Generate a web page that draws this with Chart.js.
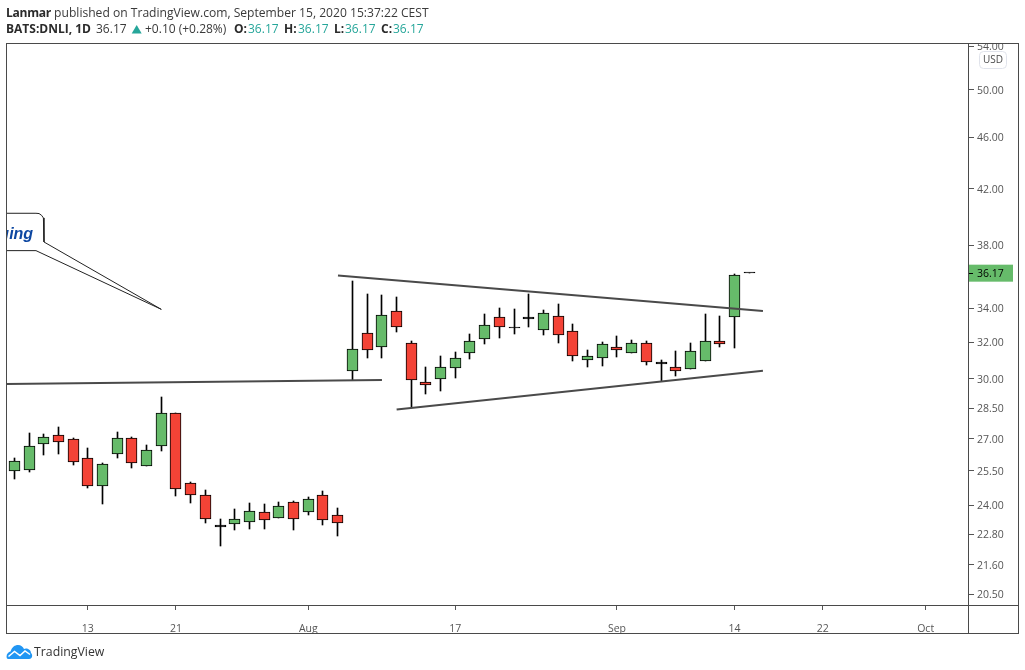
<!DOCTYPE html>
<html><head><meta charset="utf-8">
<script src="https://cdn.jsdelivr.net/npm/chart.js@4"></script>
<style>
html,body{margin:0;padding:0;background:#fff;width:1025px;height:670px;overflow:hidden}
canvas{position:absolute;left:0;top:0}
.t{position:absolute;font:12px "Open Sans",sans-serif;color:#3a3a3a;white-space:nowrap;line-height:16px;z-index:2}
.b{font-weight:700;color:#2b2b2b}
.g{color:#26a69a}
</style></head><body>
<canvas id="c" width="1025" height="670"></canvas>
<div class="t" style="left:6px;top:5px;font-size:12.1px"><span class="b" style="letter-spacing:-0.3px">Lanmar</span> published on TradingView.com, September 15, 2020 15:37:22 CEST</div>
<div class="t b" style="left:6px;top:21px">BATS:DNLI, 1D</div>
<div class="t" style="left:96px;top:21px">36.17</div>
<svg style="position:absolute;left:131px;top:24px;z-index:2" width="12" height="10"><path d="M0.7 9.6 L5.7 1 L10.7 9.6Z" fill="#26a69a"/></svg>
<div class="t" style="left:145px;top:21px">+0.10 (+0.28%)</div>
<div class="t b" style="left:234px;top:21px">O:</div><div class="t g" style="left:248px;top:21px">36.17</div>
<div class="t b" style="left:284px;top:21px">H:</div><div class="t g" style="left:298px;top:21px">36.17</div>
<div class="t b" style="left:334px;top:21px">L:</div><div class="t g" style="left:345px;top:21px">36.17</div>
<div class="t b" style="left:381px;top:21px">C:</div><div class="t g" style="left:393px;top:21px">36.17</div>
<svg style="position:absolute;left:6px;top:644px;z-index:2" width="27" height="16" viewBox="0 0 27 16"><path d="M1 14.5 C-0.5 11 2 8 4.5 7.5 C6 3 9 1 12 1 C15 1 17 3 18 5 C20 3.5 25 5 25 9 C27 10.5 26.5 15 23 15 L2 15Z" fill="#2196f3"/><path d="M2.5 12.5 L8.5 7.5 L14 11.5 L19 7 L24 10.5" fill="none" stroke="#fff" stroke-width="1.5"/></svg>
<div class="t" style="left:34px;top:644px;font-size:12.3px;color:#333">TradingView</div>
<script>
const opens  = [25.48,25.53,26.73,27.16,26.97,26.08,24.82,26.26,27.01,25.71,26.63,28.23,24.95,24.42,23.18,23.20,23.29,23.70,23.45,24.12,23.70,24.42,23.58,
                30.41,32.52,31.73,33.81,31.95,29.82,29.98,30.57,31.39,32.18,33.45,32.89,33.48,32.69,33.51,32.64,31.01,31.12,31.73,31.39,31.95,30.91,30.63,30.52,30.95,32.07,33.45,36.17];
const highs  = [26.08,27.25,27.20,27.56,27.01,26.54,25.85,27.30,27.06,26.68,29.04,28.23,24.99,24.64,23.41,23.83,24.08,24.04,24.12,24.17,24.34,24.60,23.87,
                35.67,34.86,34.80,34.68,32.07,30.64,31.23,31.45,32.46,33.63,33.99,33.93,34.84,33.87,34.23,33.04,31.56,32.01,32.35,32.12,32.07,31.01,31.50,31.95,33.63,33.51,36.10,36.17];
const lows   = [25.15,25.47,26.24,26.29,25.77,24.76,24.07,26.11,25.65,25.71,26.43,24.41,24.11,23.27,22.35,22.99,23.03,23.03,23.45,22.99,23.60,23.19,22.74,
                29.93,31.15,31.15,32.62,28.53,29.23,29.39,30.07,31.10,31.93,32.27,32.50,32.91,32.45,31.99,30.99,30.66,30.72,31.21,31.39,30.77,29.88,30.18,30.52,30.95,31.76,31.71,36.17];
const closes = [25.94,26.63,27.06,26.82,25.89,24.82,25.80,27.01,25.85,26.45,28.23,24.68,24.42,23.41,23.10,23.41,23.74,23.37,23.95,23.41,24.25,23.37,23.24,
                31.61,31.56,33.57,32.87,29.93,29.68,30.63,31.12,32.07,32.98,32.87,32.85,33.38,33.69,32.41,31.23,31.23,31.90,31.56,31.95,30.90,30.82,30.41,31.50,32.07,31.91,36.03,36.17];
const blackBodies = [14,34,35,44,50];

const priceTicks = [54,50,46,42,38,34,32,30,28.5,27,25.5,24,22.8,21.6,20.5];
const timeTickPos = [5,11,20,30,41,49,55,62];
const timeTickLabels = ['13','21','Aug','17','Sep','14','22','Oct'];

const supportLine   = [{x:-0.565,y:29.74},{x:25.01,y:29.95}];
const upperTrend    = [{x:22.02,y:36.02},{x:50.93,y:33.83}];
const lowerTrend    = [{x:26.01,y:28.42},{x:50.93,y:30.44}];
const callout = [{x:-0.565,y:40.21},{x:1.474,y:40.21},{x:1.684,y:40.19},{x:1.86,y:40.06},{x:1.979,y:39.88},{x:2.02,y:39.66},
                 {x:2.02,y:38.22},{x:10,y:33.93},{x:1.474,y:37.64},{x:-0.565,y:37.64}];
const lastPrice = 36.17, calloutAnchor = {x:1.28,y:38.45}, calloutText = 'ging';

const GREEN='#66bb6a', RED='#f44336', INK='#000', FRAME='#4a4a4a', AXIS='#555';
const idx = opens.map((_,i)=>i);

const overlay = {
  id:'overlay',
  beforeDatasetsDraw(ch){
    // snap candle bodies and wicks to whole device pixels, as the original renderer does
    ch.data.datasets.forEach((d,n)=>{
      if(d.type==='line') return;
      ch.getDatasetMeta(n).data.forEach(el=>{
        el.x=Math.floor(el.x)+.5;
        const top=Math.round(el.y), bot=Math.round(el.base);
        el.y=top; el.base=bot;
        if(d.label==='body' && bot-top<1) el.base=top+1;
      });
    });
  },
  afterDraw(ch){
    const c=ch.ctx, a=ch.chartArea, y=ch.scales.y, x=ch.scales.x, R=y.right;
    c.save();
    c.save();c.beginPath();c.rect(a.left,a.top,a.right-a.left,a.bottom-a.top);c.clip();
    c.font='italic bold 16px "Liberation Sans"';c.fillStyle='#0d47a1';c.textAlign='right';c.textBaseline='alphabetic';
    c.fillText(calloutText,x.getPixelForValue(calloutAnchor.x),y.getPixelForValue(calloutAnchor.y));
    c.restore();
    // hide anything above the pane in the price axis
    c.fillStyle='#fff';c.fillRect(a.right+1,0,R-a.right+8,a.top);
    // time axis tick marks
    c.fillStyle=AXIS;
    timeTickPos.forEach(v=>c.fillRect(Math.floor(x.getPixelForValue(v)),a.bottom+1,1,4));
    // last price tag
    const p=y.getPixelForValue(lastPrice);
    c.fillStyle=GREEN;c.fillRect(a.right,p-8.5,45,17);
    c.fillStyle=INK;c.fillRect(a.right,Math.round(p),5,1);
    c.font='10.5px "Open Sans"';c.textAlign='left';c.textBaseline='middle';
    c.fillText(lastPrice.toFixed(2),a.right+9,p+0.5);
    // currency badge
    c.beginPath();c.roundRect(979.5,51.5,27,17,4);c.fillStyle='#fff';c.fill();c.strokeStyle='#e0e3eb';c.lineWidth=1;c.stroke();
    c.fillStyle='#4a4a4a';c.font='10px "Open Sans"';c.textAlign='center';c.fillText('USD',993,60.5);
    // frame
    c.strokeStyle=FRAME;c.lineWidth=1;
    c.strokeRect(a.left+.5,a.top+.5,1012,590);
    c.beginPath();c.moveTo(a.right+.5,a.top);c.lineTo(a.right+.5,a.top+590);
    c.moveTo(a.left,a.bottom+.5);c.lineTo(a.left+1012,a.bottom+.5);c.stroke();
    c.restore();
  }
};

const lineDs=(data,w,col)=>({type:'line',data,borderColor:col,borderWidth:w,pointRadius:0,tension:0,order:0,fill:false,parsing:{xAxisKey:'x',yAxisKey:'y'}});

new Chart(document.getElementById('c'),{
  type:'bar',
  data:{datasets:[
    lineDs(supportLine,2,'#4a4a4a'),
    lineDs(upperTrend,2,'#4a4a4a'),
    lineDs(lowerTrend,2,'#4a4a4a'),
    lineDs(callout,1,'#222'),
    {label:'body',order:1,grouped:false,barThickness:11,minBarLength:1,
     data:idx.map(i=>({x:i,y:[opens[i],closes[i]]})),
     backgroundColor:idx.map(i=>blackBodies.includes(i)?INK:(closes[i]>=opens[i]?GREEN:RED)),
     borderColor:INK,borderWidth:1,borderSkipped:false},
    {label:'wick',order:2,grouped:false,barThickness:1,
     data:idx.map(i=>({x:i,y:[lows[i],highs[i]]})),
     backgroundColor:INK,borderWidth:0}
  ]},
  options:{
    responsive:false,animation:false,devicePixelRatio:1,
    layout:{padding:{left:6,top:43,right:7,bottom:37}},
    plugins:{legend:{display:false},tooltip:{enabled:false},title:{display:false}},
    scales:{
      x:{type:'linear',min:-0.565,max:64.88,bounds:'data',offset:false,
        afterBuildTicks:s=>{s.ticks=timeTickPos.map(v=>({value:v}))},
        afterFit:s=>{s.height=28},
        grid:{display:false},
        border:{display:false},
        ticks:{autoSkip:false,maxRotation:0,padding:10,color:AXIS,font:{family:'Open Sans',size:10.5},
          callback:v=>timeTickLabels[timeTickPos.indexOf(v)]}},
      y:{type:'logarithmic',position:'right',min:20.12,max:54.33,bounds:'data',
        afterBuildTicks:s=>{s.ticks=priceTicks.map(v=>({value:v}))},
        afterFit:s=>{s.width=50},
        grid:{drawOnChartArea:false,drawTicks:true,tickLength:6,color:AXIS},
        border:{display:false},
        ticks:{autoSkip:false,padding:3,labelOffset:1,color:AXIS,font:{family:'Open Sans',size:10.5},
          callback:v=>Number(v).toFixed(2)}}
    }
  },
  plugins:[overlay]
});
</script>
</body></html>
